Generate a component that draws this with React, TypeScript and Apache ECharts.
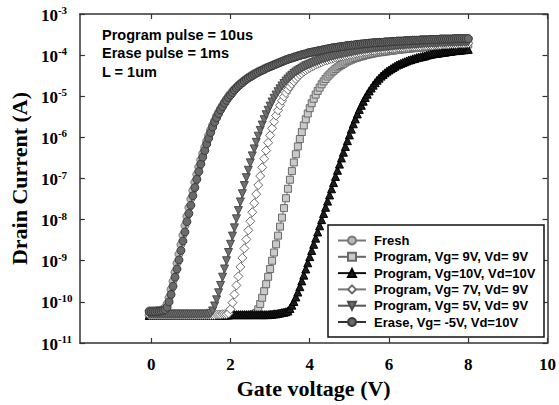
import React, { useEffect, useRef } from "react";
import * as echarts from "echarts";

// Gate voltage sweep (V)
const gateVoltage = [
  -0.05,
  0, 0.05, 0.1, 0.15, 0.2, 0.25, 0.3, 0.35, 0.4, 0.45,
  0.5, 0.55, 0.6, 0.65, 0.7, 0.75, 0.8, 0.85, 0.9, 0.95,
  1, 1.05, 1.1, 1.15, 1.2, 1.25, 1.3, 1.35, 1.4, 1.45,
  1.5, 1.55, 1.6, 1.65, 1.7, 1.75, 1.8, 1.85, 1.9, 1.95,
  2, 2.05, 2.1, 2.15, 2.2, 2.25, 2.3, 2.35, 2.4, 2.45,
  2.5, 2.55, 2.6, 2.65, 2.7, 2.75, 2.8, 2.85, 2.9, 2.95,
  3, 3.05, 3.1, 3.15, 3.2, 3.25, 3.3, 3.35, 3.4, 3.45,
  3.5, 3.55, 3.6, 3.65, 3.7, 3.75, 3.8, 3.85, 3.9, 3.95,
  4, 4.05, 4.1, 4.15, 4.2, 4.25, 4.3, 4.35, 4.4, 4.45,
  4.5, 4.55, 4.6, 4.65, 4.7, 4.75, 4.8, 4.85, 4.9, 4.95,
  5, 5.05, 5.1, 5.15, 5.2, 5.25, 5.3, 5.35, 5.4, 5.45,
  5.5, 5.55, 5.6, 5.65, 5.7, 5.75, 5.8, 5.85, 5.9, 5.95,
  6, 6.05, 6.1, 6.15, 6.2, 6.25, 6.3, 6.35, 6.4, 6.45,
  6.5, 6.55, 6.6, 6.65, 6.7, 6.75, 6.8, 6.85, 6.9, 6.95,
  7, 7.05, 7.1, 7.15, 7.2, 7.25, 7.3, 7.35, 7.4, 7.45,
  7.5, 7.55, 7.6, 7.65, 7.7, 7.75, 7.8, 7.85, 7.9, 7.95,
  8,
];

// log10 of drain current (A), one per gate voltage
const freshLog = [
  -10.22,
  -10.22, -10.22, -10.22, -10.21, -10.21, -10.2, -10.18, -10.14, -10.05, -9.9,
  -9.7, -9.5, -9.28, -9.06, -8.84, -8.61, -8.38, -8.15, -7.92, -7.71,
  -7.5, -7.29, -7.09, -6.9, -6.72, -6.55, -6.39, -6.24, -6.09, -5.95,
  -5.82, -5.7, -5.59, -5.48, -5.39, -5.3, -5.22, -5.14, -5.07, -5.0,
  -4.94, -4.88, -4.83, -4.78, -4.73, -4.69, -4.65, -4.61, -4.58, -4.54,
  -4.51, -4.48, -4.45, -4.43, -4.4, -4.38, -4.36, -4.33, -4.31, -4.29,
  -4.27, -4.25, -4.23, -4.21, -4.19, -4.17, -4.15, -4.13, -4.11, -4.1,
  -4.08, -4.07, -4.05, -4.04, -4.02, -4.01, -3.99, -3.98, -3.97, -3.95,
  -3.94, -3.93, -3.92, -3.91, -3.9, -3.89, -3.88, -3.87, -3.86, -3.85,
  -3.84, -3.83, -3.82, -3.82, -3.81, -3.8, -3.79, -3.79, -3.78, -3.77,
  -3.77, -3.76, -3.76, -3.75, -3.74, -3.74, -3.73, -3.73, -3.72, -3.72,
  -3.71, -3.71, -3.7, -3.7, -3.7, -3.69, -3.69, -3.69, -3.68, -3.68,
  -3.68, -3.67, -3.67, -3.67, -3.66, -3.66, -3.66, -3.66, -3.65, -3.65,
  -3.65, -3.65, -3.64, -3.64, -3.64, -3.64, -3.63, -3.63, -3.63, -3.63,
  -3.63, -3.62, -3.62, -3.62, -3.62, -3.62, -3.61, -3.61, -3.61, -3.61,
  -3.61, -3.61, -3.61, -3.6, -3.6, -3.6, -3.6, -3.6, -3.6, -3.6,
  -3.6,
];

const prog9Log = [
  -10.32,
  -10.32, -10.32, -10.32, -10.32, -10.32, -10.32, -10.32, -10.32, -10.32, -10.32,
  -10.32, -10.32, -10.32, -10.32, -10.32, -10.32, -10.32, -10.32, -10.32, -10.32,
  -10.32, -10.32, -10.32, -10.32, -10.32, -10.32, -10.32, -10.32, -10.32, -10.32,
  -10.32, -10.32, -10.32, -10.32, -10.32, -10.32, -10.32, -10.32, -10.32, -10.32,
  -10.32, -10.32, -10.32, -10.32, -10.32, -10.32, -10.32, -10.32, -10.32, -10.32,
  -10.32, -10.31, -10.3, -10.27, -10.18, -10.05, -9.9, -9.74, -9.57, -9.39,
  -9.2, -9.0, -8.8, -8.6, -8.39, -8.17, -7.95, -7.72, -7.48, -7.25,
  -7.03, -6.82, -6.61, -6.41, -6.22, -6.04, -5.87, -5.71, -5.56, -5.42,
  -5.29, -5.17, -5.06, -4.96, -4.87, -4.79, -4.71, -4.64, -4.58, -4.52,
  -4.47, -4.42, -4.38, -4.34, -4.3, -4.27, -4.24, -4.21, -4.18, -4.15,
  -4.13, -4.11, -4.09, -4.07, -4.06, -4.04, -4.03, -4.02, -4.0, -3.99,
  -3.98, -3.97, -3.96, -3.95, -3.94, -3.93, -3.93, -3.92, -3.91, -3.91,
  -3.9, -3.89, -3.89, -3.88, -3.87, -3.87, -3.86, -3.86, -3.85, -3.85,
  -3.84, -3.84, -3.83, -3.83, -3.82, -3.82, -3.82, -3.81, -3.81, -3.8,
  -3.8, -3.8, -3.79, -3.79, -3.79, -3.78, -3.78, -3.78, -3.77, -3.77,
  -3.77, -3.76, -3.76, -3.76, -3.75, -3.75, -3.75, -3.75, -3.74, -3.74,
  -3.74,
];

const prog10Log = [
  -10.33,
  -10.33, -10.33, -10.33, -10.33, -10.33, -10.33, -10.33, -10.33, -10.33, -10.33,
  -10.32, -10.32, -10.32, -10.32, -10.32, -10.32, -10.32, -10.32, -10.32, -10.32,
  -10.32, -10.32, -10.32, -10.32, -10.32, -10.32, -10.32, -10.32, -10.32, -10.32,
  -10.32, -10.32, -10.32, -10.32, -10.32, -10.32, -10.32, -10.32, -10.32, -10.32,
  -10.31, -10.31, -10.31, -10.31, -10.31, -10.31, -10.31, -10.31, -10.31, -10.31,
  -10.31, -10.31, -10.31, -10.31, -10.31, -10.31, -10.31, -10.31, -10.31, -10.31,
  -10.3, -10.3, -10.29, -10.29, -10.28, -10.27, -10.26, -10.25, -10.24, -10.22,
  -10.16, -10.08, -9.99, -9.88, -9.76, -9.63, -9.49, -9.35, -9.2, -9.05,
  -8.9, -8.75, -8.6, -8.45, -8.3, -8.15, -8.0, -7.85, -7.7, -7.55,
  -7.4, -7.25, -7.1, -6.95, -6.8, -6.65, -6.5, -6.36, -6.22, -6.08,
  -5.94, -5.8, -5.67, -5.55, -5.43, -5.32, -5.22, -5.12, -5.03, -4.95,
  -4.87, -4.8, -4.73, -4.67, -4.61, -4.56, -4.51, -4.47, -4.43, -4.39,
  -4.36, -4.33, -4.3, -4.27, -4.24, -4.22, -4.2, -4.18, -4.16, -4.14,
  -4.12, -4.11, -4.09, -4.08, -4.06, -4.05, -4.04, -4.03, -4.02, -4.0,
  -3.99, -3.98, -3.97, -3.96, -3.96, -3.95, -3.94, -3.93, -3.93, -3.92,
  -3.91, -3.91, -3.9, -3.89, -3.89, -3.88, -3.88, -3.87, -3.87, -3.86,
  -3.86,
];

const prog7Log = [
  -10.32,
  -10.32, -10.32, -10.32, -10.32, -10.32, -10.32, -10.32, -10.32, -10.32, -10.32,
  -10.32, -10.32, -10.32, -10.32, -10.32, -10.32, -10.32, -10.32, -10.32, -10.32,
  -10.32, -10.32, -10.32, -10.32, -10.32, -10.32, -10.32, -10.32, -10.32, -10.32,
  -10.32, -10.32, -10.32, -10.31, -10.31, -10.31, -10.3, -10.3, -10.3, -10.28,
  -10.18, -10.02, -9.82, -9.6, -9.38, -9.15, -8.93, -8.7, -8.48, -8.26,
  -8.04, -7.82, -7.6, -7.38, -7.16, -6.94, -6.73, -6.52, -6.32, -6.13,
  -5.95, -5.78, -5.62, -5.47, -5.34, -5.22, -5.11, -5.01, -4.92, -4.84,
  -4.77, -4.7, -4.64, -4.58, -4.53, -4.48, -4.44, -4.4, -4.37, -4.34,
  -4.31, -4.28, -4.26, -4.23, -4.21, -4.19, -4.17, -4.15, -4.13, -4.12,
  -4.1, -4.09, -4.07, -4.06, -4.05, -4.04, -4.03, -4.02, -4.01, -4.0,
  -3.99, -3.98, -3.97, -3.96, -3.95, -3.94, -3.93, -3.92, -3.92, -3.91,
  -3.9, -3.89, -3.89, -3.88, -3.87, -3.87, -3.86, -3.86, -3.85, -3.85,
  -3.84, -3.84, -3.83, -3.83, -3.82, -3.82, -3.81, -3.81, -3.8, -3.8,
  -3.8, -3.79, -3.79, -3.79, -3.78, -3.78, -3.78, -3.77, -3.77, -3.77,
  -3.76, -3.76, -3.76, -3.75, -3.75, -3.75, -3.75, -3.74, -3.74, -3.74,
  -3.74, -3.73, -3.73, -3.73, -3.73, -3.72, -3.72, -3.72, -3.72, -3.71,
  -3.71,
];

const prog5Log = [
  -10.3,
  -10.3, -10.3, -10.3, -10.3, -10.3, -10.3, -10.3, -10.3, -10.3, -10.3,
  -10.3, -10.3, -10.3, -10.3, -10.3, -10.3, -10.3, -10.3, -10.3, -10.3,
  -10.3, -10.3, -10.3, -10.3, -10.3, -10.3, -10.3, -10.3, -10.3, -10.3,
  -10.28, -10.22, -10.1, -9.95, -9.78, -9.6, -9.4, -9.2, -9.0, -8.8,
  -8.6, -8.4, -8.2, -7.98, -7.78, -7.57, -7.37, -7.17, -6.98, -6.8,
  -6.62, -6.45, -6.28, -6.12, -5.97, -5.83, -5.7, -5.57, -5.45, -5.34,
  -5.24, -5.14, -5.05, -4.97, -4.89, -4.82, -4.75, -4.69, -4.63, -4.58,
  -4.53, -4.49, -4.45, -4.41, -4.38, -4.35, -4.32, -4.29, -4.26, -4.24,
  -4.22, -4.2, -4.18, -4.16, -4.14, -4.12, -4.1, -4.09, -4.07, -4.06,
  -4.04, -4.03, -4.02, -4.0, -3.99, -3.98, -3.97, -3.96, -3.95, -3.94,
  -3.93, -3.92, -3.91, -3.9, -3.89, -3.88, -3.87, -3.86, -3.86, -3.85,
  -3.84, -3.84, -3.83, -3.82, -3.82, -3.81, -3.81, -3.8, -3.8, -3.79,
  -3.79, -3.78, -3.78, -3.77, -3.77, -3.76, -3.76, -3.76, -3.75, -3.75,
  -3.75, -3.74, -3.74, -3.74, -3.73, -3.73, -3.73, -3.72, -3.72, -3.72,
  -3.72, -3.71, -3.71, -3.71, -3.71, -3.7, -3.7, -3.7, -3.7, -3.7,
  -3.69, -3.69, -3.69, -3.69, -3.69, -3.68, -3.68, -3.68, -3.68, -3.68,
  -3.68,
];

const eraseLog = [
  -10.24,
  -10.24, -10.24, -10.24, -10.23, -10.23, -10.22, -10.21, -10.19, -10.13, -10.0,
  -9.82, -9.62, -9.4, -9.2, -8.98, -8.75, -8.52, -8.3, -8.05, -7.85,
  -7.65, -7.42, -7.22, -7.02, -6.83, -6.65, -6.48, -6.32, -6.16, -6.02,
  -5.88, -5.75, -5.63, -5.52, -5.42, -5.33, -5.25, -5.17, -5.1, -5.03,
  -4.97, -4.91, -4.85, -4.8, -4.75, -4.71, -4.67, -4.63, -4.59, -4.56,
  -4.53, -4.5, -4.47, -4.44, -4.42, -4.39, -4.37, -4.35, -4.32, -4.3,
  -4.28, -4.26, -4.24, -4.22, -4.2, -4.18, -4.16, -4.14, -4.12, -4.1,
  -4.08, -4.07, -4.05, -4.04, -4.02, -4.01, -3.99, -3.98, -3.97, -3.95,
  -3.94, -3.93, -3.92, -3.91, -3.9, -3.89, -3.88, -3.87, -3.86, -3.85,
  -3.84, -3.83, -3.82, -3.82, -3.81, -3.8, -3.79, -3.79, -3.78, -3.77,
  -3.77, -3.76, -3.76, -3.75, -3.74, -3.74, -3.73, -3.73, -3.72, -3.72,
  -3.71, -3.71, -3.7, -3.7, -3.7, -3.69, -3.69, -3.69, -3.68, -3.68,
  -3.68, -3.67, -3.67, -3.67, -3.66, -3.66, -3.66, -3.66, -3.65, -3.65,
  -3.65, -3.65, -3.64, -3.64, -3.64, -3.64, -3.63, -3.63, -3.63, -3.63,
  -3.63, -3.62, -3.62, -3.62, -3.62, -3.62, -3.61, -3.61, -3.61, -3.61,
  -3.61, -3.61, -3.61, -3.6, -3.6, -3.6, -3.6, -3.6, -3.6, -3.6,
  -3.6,
];

const seriesNames = [
  "Fresh",
  "Program, Vg= 9V, Vd= 9V",
  "Program, Vg=10V, Vd=10V",
  "Program, Vg= 7V, Vd= 9V",
  "Program, Vg= 5V, Vd= 9V",
  "Erase, Vg= -5V, Vd=10V",
];

const annotationLines = ["Program pulse = 10us", "Erase pulse = 1ms", "L = 1um"];
const xTickValues = [0, 2, 4, 6, 8, 10];

const SERIF = "'Liberation Serif', 'Times New Roman', serif";
const SANS = "'Liberation Sans', Arial, sans-serif";

export default function App() {
  const ref = useRef<HTMLDivElement>(null);

  useEffect(() => {
    if (!ref.current) return;
    const chart = echarts.init(ref.current, undefined, { renderer: "svg" });

    const toData = (logs: number[]) =>
      gateVoltage.map((v, i) => [v, Math.pow(10, logs[i])]);

    const styles = [
      { symbol: "circle", size: 8, fill: "#b8b8b8", border: "#7a7a7a", line: "#777777", rotate: 0 },
      { symbol: "rect", size: 7, fill: "#cacaca", border: "#6a6a6a", line: "#666666", rotate: 0 },
      { symbol: "triangle", size: 8, fill: "#1c1c1c", border: "#000000", line: "#111111", rotate: 0 },
      { symbol: "diamond", size: 9, fill: "#ffffff", border: "#6a6a6a", line: "#777777", rotate: 0 },
      { symbol: "triangle", size: 8, fill: "#707070", border: "#4a4a4a", line: "#555555", rotate: 180 },
      { symbol: "circle", size: 8, fill: "#6a6a6a", border: "#3a3a3a", line: "#333333", rotate: 0 },
    ];
    const logs = [freshLog, prog9Log, prog10Log, prog7Log, prog5Log, eraseLog];

    const series = seriesNames.map((name, k) => ({
      name,
      type: "line",
      xAxisIndex: 0,
      yAxisIndex: 0,
      data: toData(logs[k]),
      symbol: styles[k].symbol,
      symbolSize: styles[k].size,
      symbolRotate: styles[k].rotate,
      showAllSymbol: true,
      lineStyle: { color: styles[k].line, width: 1 },
      itemStyle: { color: styles[k].fill, borderColor: styles[k].border, borderWidth: 1 },
      z: 2 + k,
    }));

    const axisLine = { show: true, onZero: false, lineStyle: { color: "#333", width: 1.5 } };
    const tickStyle = { color: "#333", width: 1.2 };

    chart.setOption({
      animation: false,
      backgroundColor: "#ffffff",
      grid: { left: 78, right: 11, top: 14, bottom: 62, containLabel: false },
      xAxis: [
        {
          type: "value",
          position: "bottom",
          min: -1.8,
          max: 10,
          axisLine,
          axisTick: { show: true, inside: true, length: 5, customValues: xTickValues, lineStyle: tickStyle },
          axisLabel: {
            customValues: xTickValues,
            margin: 13,
            color: "#000",
            fontFamily: SERIF,
            fontWeight: "bold",
            fontSize: 17,
          },
          splitLine: { show: false },
          name: "Gate voltage (V)",
          nameLocation: "middle",
          nameGap: 30,
          nameTextStyle: { fontFamily: SERIF, fontWeight: "bold", fontSize: 22, color: "#000" },
        },
        {
          type: "value",
          position: "top",
          min: -1.8,
          max: 10,
          axisLine,
          axisTick: { show: true, inside: true, length: 5, customValues: xTickValues, lineStyle: tickStyle },
          axisLabel: { show: false },
          splitLine: { show: false },
        },
      ],
      yAxis: [
        {
          type: "log",
          logBase: 10,
          position: "left",
          min: 1e-11,
          max: 1e-3,
          splitNumber: 8,
          axisLine,
          axisTick: { show: true, inside: true, length: 5, lineStyle: tickStyle },
          axisLabel: {
            align: "left",
            margin: 39,
            formatter: (v: number) => `{b|10}{s|${Math.round(Math.log10(v))}}`,
            rich: {
              b: { fontFamily: SERIF, fontWeight: "bold", fontSize: 17, color: "#000", verticalAlign: "bottom" },
              s: {
                fontFamily: SERIF,
                fontWeight: "bold",
                fontSize: 11,
                color: "#000",
                verticalAlign: "bottom",
                padding: [0, 0, 8, 0],
              },
            },
          },
          splitLine: { show: false },
          name: "Drain Current (A)",
          nameLocation: "middle",
          nameGap: 48,
          nameRotate: 90,
          nameTextStyle: { fontFamily: SERIF, fontWeight: "bold", fontSize: 22, color: "#000" },
        },
        {
          type: "log",
          logBase: 10,
          position: "right",
          min: 1e-11,
          max: 1e-3,
          splitNumber: 8,
          axisLine,
          axisTick: { show: true, inside: true, length: 5, lineStyle: tickStyle },
          axisLabel: { show: false },
          splitLine: { show: false },
        },
      ],
      legend: {
        orient: "vertical",
        left: 337,
        top: 234,
        padding: 0,
        itemGap: 3.3,
        itemWidth: 28,
        itemHeight: 10,
        z: 10,
        data: seriesNames,
        textStyle: {
          fontFamily: SANS,
          fontWeight: "bold",
          fontSize: 13,
          lineHeight: 13,
          color: "#000",
          padding: [0, 0, 0, 3],
        },
      },
      graphic: [
        {
          type: "rect",
          z: 8,
          shape: { x: 328, y: 225, width: 216, height: 112 },
          style: { fill: "#ffffff", stroke: "#111", lineWidth: 1.5 },
        },
        ...annotationLines.map((t, i) => ({
          type: "text",
          z: 10,
          left: 102,
          top: 27 + i * 18.5,
          style: {
            text: t,
            fontFamily: SANS,
            fontWeight: "bold",
            fontSize: 14.5,
            fill: "#000",
          },
        })),
      ],
      series,
    });

    return () => chart.dispose();
  }, []);

  return (
    <div
      ref={ref}
      style={{ position: "fixed", left: 0, top: 0, width: 559, height: 405, background: "#fff" }}
    />
  );
}
